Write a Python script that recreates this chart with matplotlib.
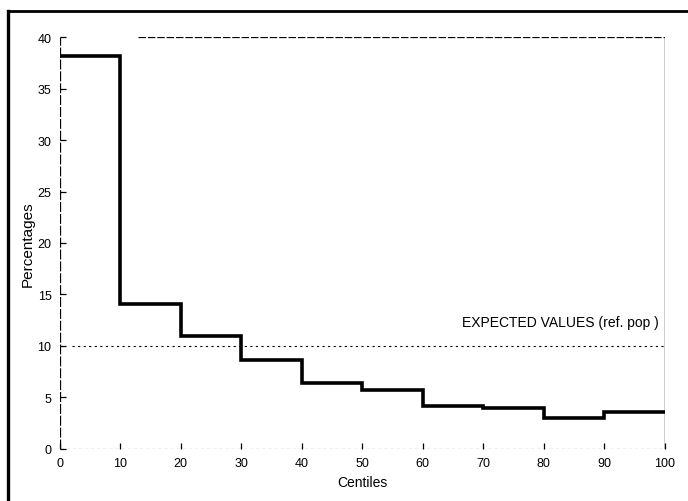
import matplotlib
matplotlib.use("Agg")
import matplotlib.pyplot as plt
from matplotlib.lines import Line2D

# ==================================
# Data
# ==================================
centile_edges = [0, 10, 20, 30, 40, 50, 60, 70, 80, 90, 100]
percentages = [38.2, 14.1, 11.0, 8.6, 6.4, 5.7, 4.2, 4.0, 3.0, 3.6]
expected_value = 10
x_ticks = [0, 10, 20, 30, 40, 50, 60, 70, 80, 90, 100]
y_ticks = [0, 5, 10, 15, 20, 25, 30, 35, 40]

plt.rcParams["font.family"] = ["Liberation Sans", "DejaVu Sans"]

fig = plt.figure(figsize=(6.88, 5.02), dpi=100)
ax = fig.add_axes([0.087, 0.104, 0.879, 0.820])

# ==================================
# Step line
# ==================================
ax.stairs(percentages, centile_edges, baseline=None,
          color="black", linewidth=2.6)

# expected values reference line
ax.plot([2, 100], [expected_value, expected_value],
        color="black", linewidth=0.8, linestyle=(0, (2, 3)))
ax.text(99, expected_value + 1.6, "EXPECTED VALUES (ref. pop )",
        ha="right", va="bottom", fontsize=10)

# frame of the plot area, drawn by hand to look like the print
ax.plot([13, 100], [40, 40], color="black", linewidth=0.9,
        linestyle=(0, (6, 1.5)))
ax.plot([100, 100], [0, 40], color="black", linewidth=1.0)
ax.plot([0, 0], [0, 40], color="black", linewidth=0.9,
        linestyle=(0, (8, 1.5)))
ax.plot([0, 100], [0, 0], color="black", linewidth=0.8,
        linestyle=(0, (3, 2.5)))

for s in ax.spines.values():
    s.set_visible(False)

ax.set_xlim(0, 100)
ax.set_ylim(0, 40)
ax.set_xticks(x_ticks)
ax.set_yticks(y_ticks)
ax.tick_params(direction="in", length=4, width=0.9, labelsize=9, pad=6)

ax.set_xlabel("Centiles", fontsize=10, labelpad=4)
ax.set_ylabel("Percentages", fontsize=11, labelpad=2)

# outer box of the scanned page (left and top edges)
fig.add_artist(Line2D([8 / 688, 8 / 688], [0, 1 - 12 / 502],
                      color="black", linewidth=2.4))
fig.add_artist(Line2D([8 / 688, 1], [1 - 12 / 502, 1 - 12 / 502],
                      color="black", linewidth=2.0))

plt.savefig("out.png", dpi=100)
plt.close()
